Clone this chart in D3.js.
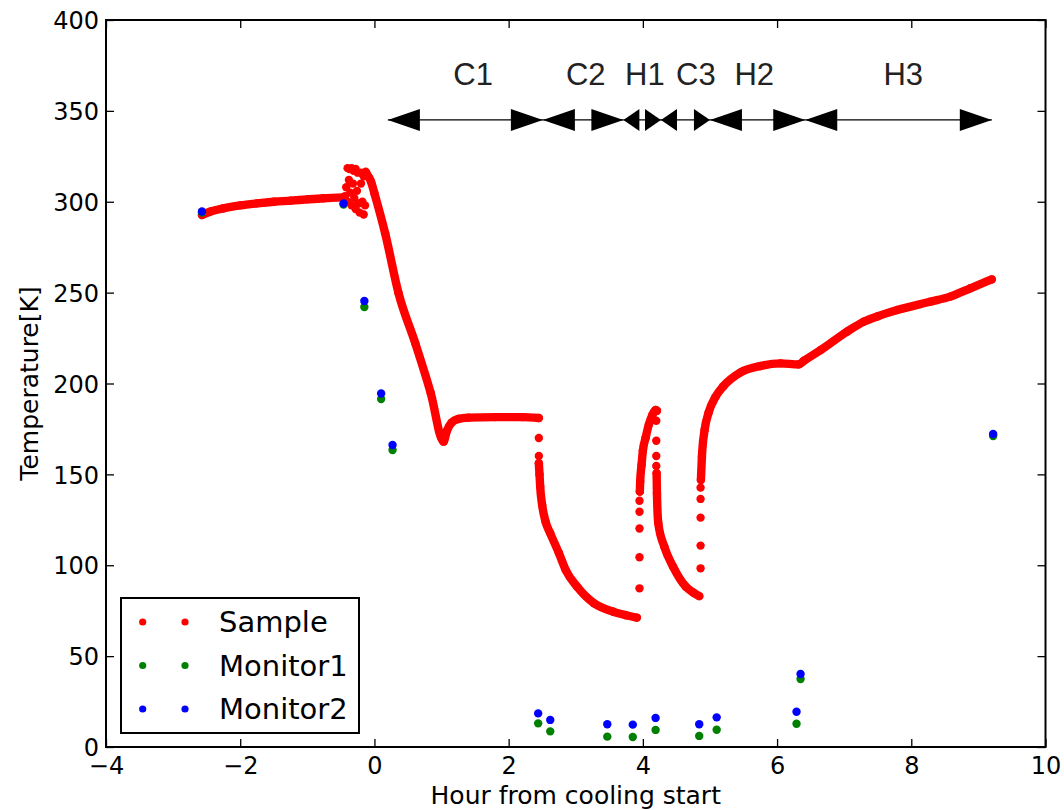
<!DOCTYPE html>
<html>
<head>
<meta charset="utf-8">
<script src="https://cdn.jsdelivr.net/npm/d3@7"></script>
<style>
  html, body { margin: 0; padding: 0; background: #fff; }
  svg { display: block; }
</style>
</head>
<body>
<svg id="chart" width="1064" height="810"></svg>
<script>
// ---- data: hours from cooling start vs temperature [K] ----

// Sample: dense logging stretches (drawn as continuous traces of readings)
const sampleWarm = [[-2.57,292.7],[-2.45,294.5],[-2.25,296.4],[-2.0,298.0],[-1.75,299.1],[-1.5,300.0],[-1.25,300.6],[-1.0,301.3],[-0.76,301.9],[-0.46,302.4]];
const sampleC1 = [[-0.12,315.7],[-0.05,311.0],[0.0,304.6],[0.16,282.6],[0.36,249.6],[0.61,222.0],[0.84,194.6],[1.03,168.0],[1.08,174.0],[1.15,178.5],[1.25,180.5],[1.4,181.2],[1.8,181.5],[2.2,181.5],[2.45,181.0]];
const sampleC2 = [[2.45,156.1],[2.46,150.0],[2.47,143.2],[2.50,133.0],[2.55,124.0],[2.62,117.6],[2.75,106.6],[2.85,97.4],[3.02,88.2],[3.27,79.1],[3.56,74.4],[3.75,72.5],[3.91,71.2]];
const sampleH1 = [[3.955,140.5],[3.96,146.0],[3.98,155.0],[4.0,163.0],[4.04,170.0],[4.09,177.5],[4.14,182.5],[4.19,185.4],[4.21,185.0]];
const sampleC3 = [[4.205,150.6],[4.21,139.5],[4.23,123.1],[4.32,110.2],[4.45,99.2],[4.64,88.2],[4.75,85.0],[4.84,83.0]];
const sampleH2H3 = [[4.865,146.9],[4.88,159.7],[4.92,174.4],[4.98,184.0],[5.08,192.5],[5.2,198.5],[5.45,206.0],[5.75,209.6],[6.05,211.1],[6.32,210.5],[6.4,212.5],[6.65,218.4],[7.04,228.5],[7.29,234.0],[7.5,237.0],[7.79,240.4],[8.28,245.0],[8.58,247.8],[8.88,252.4],[9.2,257.3]];

// Sample: isolated readings (fluctuation before cooling and fast transitions)
const sampleSparse = [
  [-0.44,303],[-0.42,308],[-0.40,318.5],[-0.37,318],[-0.34,318.5],[-0.31,317],[-0.28,318],[-0.25,316],
  [-0.40,300],[-0.38,312],[-0.36,305],[-0.34,298],[-0.32,310],[-0.30,302],[-0.28,296],[-0.26,306],
  [-0.24,299],[-0.22,294],[-0.20,310],[-0.18,300],[-0.16,293],[-0.14,298],[-0.20,316],[-0.16,314],[-0.13,316.5],
  [2.45,170.0],[2.45,160.1],
  [3.95,87.3],[3.95,104.4],[3.95,120.2],[3.95,129.4],[3.95,135.5],
  [4.2,179.5],[4.2,168.5],[4.2,160.1],[4.2,154.6],
  [4.86,98.3],[4.86,110.8],[4.86,126.2],[4.86,136.5],[4.86,142.7]
];

const monitor1 = [[-2.57,294.0],[-0.46,298.5],[-0.15,242.1],[0.10,191.5],[0.27,163.4],[2.44,13.0],[2.62,8.6],[3.47,5.7],[3.85,5.5],[4.19,9.4],[4.84,6.1],[5.10,9.5],[6.29,12.8],[6.35,37.4],[9.22,171.1]];
const monitor2 = [[-2.57,294.6],[-0.46,299.0],[-0.15,245.4],[0.10,194.5],[0.27,166.2],[2.44,18.5],[2.62,14.9],[3.47,12.5],[3.85,12.3],[4.19,16.0],[4.84,12.5],[5.10,16.3],[6.29,19.4],[6.35,40.2],[9.22,172.2]];

// Phase annotations
const phaseLabels = ["C1","C2","H1","C3","H2","H3"];
const phaseStart  = [0.2, 2.51, 3.71, 4.27, 5.0, 6.42];
const phaseEnd    = [2.51, 3.71, 4.27, 5.0, 6.42, 9.2];
const phaseLabelX = [1.47, 3.15, 4.03, 4.79, 5.66, 7.88];
const phaseArrowT = 345;
const phaseLabelT = 364;

// Axis ticks
const xTicks = [-4,-2,0,2,4,6,8,10];
const yTicks = [0,50,100,150,200,250,300,350,400];

const seriesNames = ["Sample","Monitor1","Monitor2"];
const seriesColors = ["#ff0000","#008000","#0000ff"];

// ---- drawing ----
const svg = d3.select("#chart");
const plotLeft = 106, plotRight = 1045.5, plotTop = 20, plotBottom = 747;
const x = d3.scaleLinear().domain([-4,10]).range([plotLeft,plotRight]);
const y = d3.scaleLinear().domain([0,400]).range([plotBottom,plotTop]);
const R = 4.2;
const fmt = d => d < 0 ? "\u2212" + Math.abs(d) : String(d);

const plot = svg.append("g");

// Sample traces
const line = d3.line().x(d => x(d[0])).y(d => y(d[1])).curve(d3.curveMonotoneX);
[sampleWarm, sampleC1, sampleC2, sampleH1, sampleC3, sampleH2H3].forEach(seg => {
  plot.append("path").datum(seg).attr("d", line)
    .attr("fill","none").attr("stroke",seriesColors[0])
    .attr("stroke-width",2*R).attr("stroke-linecap","round").attr("stroke-linejoin","round");
  plot.selectAll(null).data(seg).enter().append("circle")
    .attr("cx",d=>x(d[0])).attr("cy",d=>y(d[1])).attr("r",R).attr("fill",seriesColors[0]);
});
plot.selectAll(null).data(sampleSparse).enter().append("circle")
  .attr("cx",d=>x(d[0])).attr("cy",d=>y(d[1])).attr("r",R).attr("fill",seriesColors[0]);

[monitor1, monitor2].forEach((s,i) => {
  plot.selectAll(null).data(s).enter().append("circle")
    .attr("cx",d=>x(d[0])).attr("cy",d=>y(d[1])).attr("r",R).attr("fill",seriesColors[i+1]);
});

// Phase arrows
const ann = svg.append("g");
const ay = y(phaseArrowT);
phaseLabels.forEach((lab,i) => {
  const x0 = x(phaseStart[i]), x1 = x(phaseEnd[i]);
  const len = x1 - x0;
  const hl = len < 60 ? 16 : 32, hw = 11;
  ann.append("line").attr("x1",x0).attr("x2",x1).attr("y1",ay).attr("y2",ay)
    .attr("stroke","#000").attr("stroke-width",1.2);
  ann.append("path").attr("d",`M${x0},${ay}L${x0+hl},${ay-hw}L${x0+hl},${ay+hw}Z`).attr("fill","#000");
  ann.append("path").attr("d",`M${x1},${ay}L${x1-hl},${ay-hw}L${x1-hl},${ay+hw}Z`).attr("fill","#000");
  ann.append("text").attr("x",x(phaseLabelX[i])).attr("y",y(phaseLabelT))
    .attr("text-anchor","middle").attr("font-family","'Liberation Sans', Arial, sans-serif")
    .attr("font-size",31).attr("fill","#222").text(lab);
});

// Axes: ticks pointing inward on all four sides
const tickFont = "'DejaVu Sans', sans-serif";
const axB = svg.append("g").attr("transform",`translate(0,${plotBottom})`)
  .call(d3.axisBottom(x).tickValues(xTicks).tickSize(-8).tickPadding(10).tickFormat(fmt));
const axT = svg.append("g").attr("transform",`translate(0,${plotTop})`)
  .call(d3.axisTop(x).tickValues(xTicks).tickSize(-8).tickFormat(""));
const axL = svg.append("g").attr("transform",`translate(${plotLeft},0)`)
  .call(d3.axisLeft(y).tickValues(yTicks).tickSize(-8).tickPadding(7).tickFormat(fmt));
const axR = svg.append("g").attr("transform",`translate(${plotRight},0)`)
  .call(d3.axisRight(y).tickValues(yTicks).tickSize(-8).tickFormat(""));
[axB,axT,axL,axR].forEach(a => {
  a.select(".domain").remove();
  a.selectAll(".tick line").attr("stroke","#000").attr("stroke-width",1.3);
  a.selectAll(".tick text").attr("font-family",tickFont).attr("font-size",24).attr("fill","#000");
});
axB.selectAll(".tick text").attr("dy","0.71em");
axL.selectAll(".tick text").attr("dy","0.36em");

svg.append("rect").attr("x",plotLeft).attr("y",plotTop).attr("width",plotRight-plotLeft).attr("height",plotBottom-plotTop)
  .attr("fill","none").attr("stroke","#000").attr("stroke-width",2);

svg.append("text").attr("x",(plotLeft+plotRight)/2).attr("y",804).attr("text-anchor","middle")
  .attr("font-family",tickFont).attr("font-size",25).text("Hour from cooling start");
svg.append("text").attr("transform",`translate(38,${(plotTop+plotBottom)/2}) rotate(-90)`)
  .attr("text-anchor","middle").attr("font-family",tickFont).attr("font-size",25).text("Temperature[K]");

// Legend
const lg = svg.append("g");
lg.append("rect").attr("x",121).attr("y",598).attr("width",238).attr("height",135)
  .attr("fill","#fff").attr("stroke","#000").attr("stroke-width",2);
seriesNames.forEach((n,i) => {
  const ry = 622 + i*43.5;
  [142.7,185].forEach(mx => lg.append("circle").attr("cx",mx).attr("cy",ry).attr("r",3.6).attr("fill",seriesColors[i]));
  lg.append("text").attr("x",219).attr("y",ry).attr("dy","0.36em")
    .attr("font-family",tickFont).attr("font-size",29).text(n);
});
</script>
</body>
</html>
